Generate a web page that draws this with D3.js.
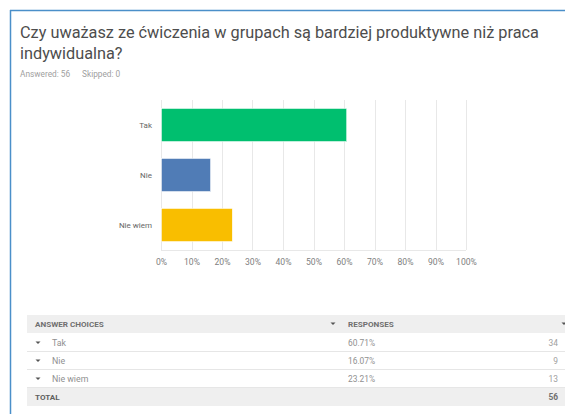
<!DOCTYPE html>
<html lang="pl">
<head>
<meta charset="utf-8">
<title>Czy uważasz ze ćwiczenia w grupach są bardziej produktywne niż praca indywidualna?</title>
<script src="https://cdn.jsdelivr.net/npm/d3@7"></script>
<style>
    body { margin: 0; background: #fff; font-family: Roboto, "Open Sans", sans-serif; }
    .grid line { stroke: #e8e8e8; shape-rendering: crispEdges; }
    .axis path { display: none; }
    .axis line { display: none; }
    .axis text { fill: #808080; font-size: 8.6px; font-family: Roboto, sans-serif; }
</style>
</head>
<body>
<script>
    var titleLines = ["Czy uważasz ze ćwiczenia w grupach są bardziej produktywne niż praca", "indywidualna?"];
    var answered = 56, skipped = 0;
    var categories = ["Tak", "Nie", "Nie wiem"];
    var percents = [60.71, 16.07, 23.21];
    var counts = [34, 9, 13];
    var colors = ["#00bf6f", "#507cb6", "#f9be00"];
    var xTicks = [0, 10, 20, 30, 40, 50, 60, 70, 80, 90, 100];
    var total = 56;

    var W = 565, H = 414;
    var svg = d3.select("body").append("svg")
        .attr("width", W)
        .attr("height", H);

    // frame (blue top + left edge)
    svg.append("line").attr("x1", 10).attr("x2", W).attr("y1", 10.5).attr("y2", 10.5)
        .attr("stroke", "#4a8fc9").attr("stroke-width", 1.5);
    svg.append("line").attr("x1", 10.5).attr("x2", 10.5).attr("y1", 10).attr("y2", H)
        .attr("stroke", "#4a8fc9").attr("stroke-width", 1.5);

    // title
    svg.selectAll(".title").data(titleLines).enter().append("text")
        .attr("class", "title")
        .attr("x", 20)
        .attr("y", function (d, i) { return 38 + i * 20.5; })
        .style("font-size", "16.3px")
        .style("fill", "#4d4d4d")
        .text(function (d) { return d; });

    svg.append("text").attr("x", 20).attr("y", 77)
        .style("font-size", "8.3px").style("fill", "#a0a0a0")
        .text("Answered: " + answered);
    svg.append("text").attr("x", 82).attr("y", 77)
        .style("font-size", "8.3px").style("fill", "#a0a0a0")
        .text("Skipped: " + skipped);

    // chart
    var x = d3.scaleLinear().domain([0, 100]).range([161, 466]);
    var y = d3.scaleBand().domain(categories).range([100, 250])
        .paddingInner(0.34).paddingOuter(0.17);

    svg.append("g").attr("class", "grid")
        .selectAll("line").data(xTicks).enter().append("line")
        .attr("x1", function (d) { return Math.round(x(d)) + 0.5; })
        .attr("x2", function (d) { return Math.round(x(d)) + 0.5; })
        .attr("y1", 100).attr("y2", 250);
    svg.append("g").attr("class", "grid").append("line")
        .attr("x1", x(0)).attr("x2", x(100)).attr("y1", 250.5).attr("y2", 250.5);

    svg.append("g").attr("class", "axis")
        .attr("transform", "translate(0,256)")
        .call(d3.axisBottom(x).tickValues(xTicks).tickSize(0).tickFormat(function (d) { return d + "%"; }));

    svg.selectAll(".bar").data(categories).enter().append("rect")
        .attr("class", "bar")
        .attr("x", x(0) + 0.5)
        .attr("y", function (d) { return y(d); })
        .attr("width", function (d, i) { return x(percents[i]) - x(0); })
        .attr("height", y.bandwidth())
        .attr("fill", function (d, i) { return colors[i]; })
        .attr("stroke", "#fff")
        .attr("stroke-width", 0.5);

    svg.selectAll(".cat").data(categories).enter().append("text")
        .attr("class", "cat")
        .attr("x", 152)
        .attr("y", function (d) { return y(d) + y.bandwidth() / 2; })
        .attr("dy", "0.35em")
        .attr("text-anchor", "end")
        .style("font-size", "8px")
        .style("fill", "#666")
        .text(function (d) { return d; });

    // table
    var tbl = svg.append("g").style("font-size", "8.4px");
    var rowY = [333, 351, 369];
    tbl.append("rect").attr("x", 27).attr("y", 315).attr("width", W - 27).attr("height", 18).attr("fill", "#efefef");
    tbl.append("rect").attr("x", 27).attr("y", 388).attr("width", W - 27).attr("height", 18).attr("fill", "#efefef");
    tbl.append("text").attr("x", 35).attr("y", 324).attr("dy", "0.35em")
        .style("font-weight", "bold").style("fill", "#707070").style("font-size", "8.1px").text("ANSWER CHOICES");
    tbl.append("text").attr("x", 348).attr("y", 324).attr("dy", "0.35em")
        .style("font-weight", "bold").style("fill", "#707070").style("font-size", "8.1px").text("RESPONSES");
    [333, 564].forEach(function (ax) {
        tbl.append("path").attr("d", "M" + (ax - 2.5) + ",322.5L" + (ax + 2.5) + ",322.5L" + ax + ",325Z").attr("fill", "#555");
    });

    var rows = tbl.selectAll(".row").data(categories).enter().append("g").attr("class", "row")
        .attr("transform", function (d, i) { return "translate(0," + rowY[i] + ")"; });
    rows.append("line").attr("x1", 27).attr("x2", W).attr("y1", 18.5).attr("y2", 18.5)
        .attr("stroke", "#e6e6e6");
    rows.append("path").attr("d", "M35.5,8.5L40.5,8.5L38,11Z").attr("fill", "#555");
    rows.append("text").attr("x", 52).attr("y", 10).attr("dy", "0.35em").style("fill", "#909090")
        .style("font-size", "8.8px")
        .text(function (d) { return d; });
    rows.append("text").attr("x", 348).attr("y", 10).attr("dy", "0.35em").style("fill", "#909090")
        .text(function (d, i) { return percents[i].toFixed(2) + "%"; });
    rows.append("text").attr("x", 558).attr("y", 10).attr("dy", "0.35em").attr("text-anchor", "end")
        .style("fill", "#a0a0a0").text(function (d, i) { return counts[i]; });

    tbl.append("text").attr("x", 35).attr("y", 397).attr("dy", "0.35em")
        .style("font-weight", "bold").style("fill", "#606060").style("font-size", "8.1px").text("TOTAL");
    tbl.append("text").attr("x", 558).attr("y", 397).attr("dy", "0.35em").attr("text-anchor", "end")
        .style("font-weight", "bold").style("fill", "#707070").text(total);
</script>
</body>
</html>
